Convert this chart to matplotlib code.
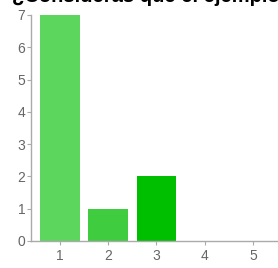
import numpy as np
import matplotlib.pyplot as plt

# answer options and how many people picked each
categories = [1, 2, 3, 4, 5]
counts = [7, 1, 2, 0, 0]
barColors = ['#5cd65c', '#3fcc3f', '#00bf00', '#00b000', '#00a000']
yTicks = [0, 1, 2, 3, 4, 5, 6, 7]
title = '¿Consideras que el ejemplo es claro?'

plt.rcParams['font.family'] = ['Liberation Sans', 'DejaVu Sans']

fig = plt.figure(figsize=(2.78, 2.68), dpi=100)
ax = fig.add_axes([31 / 278, 27 / 268, 1 - 31 / 278, 226 / 268])

ax.bar(categories, counts, width=0.82, color=barColors)

ax.set_xlim(0.4, 5.52)
ax.set_ylim(0, 7)
ax.set_xticks(categories)
ax.set_yticks(yTicks)
ax.tick_params(colors='#aaaaaa', labelcolor='#666666', labelsize=10, length=3, width=0.8)
ax.tick_params(axis='x', pad=3)
ax.tick_params(axis='y', pad=1)

for s in ['top', 'right']:
    ax.spines[s].set_visible(False)
for s in ['left', 'bottom']:
    ax.spines[s].set_color('#aaaaaa')
    ax.spines[s].set_linewidth(1)

# title is mostly cut off at the top of the image, like in the original
fig.text(12 / 278, 1 - 2 / 268, title, fontsize=14.5, fontweight='bold', color='black', va='baseline', ha='left')

fig.savefig('out.png', dpi=100)
